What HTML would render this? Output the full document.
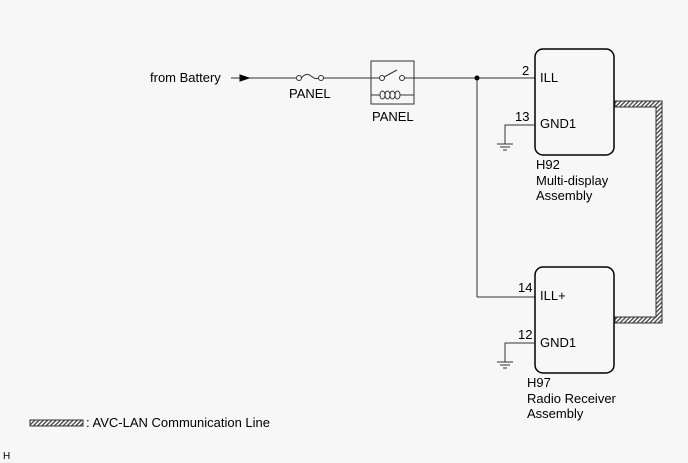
<!DOCTYPE html>
<html><head><style>
html,body{margin:0;padding:0;background:#f7f7f7;}
svg{display:block;}
text{font-family:"Liberation Sans",Arial,sans-serif;font-size:13px;fill:#000;}
</style></head><body>
<svg width="688" height="463" viewBox="0 0 688 463" xmlns="http://www.w3.org/2000/svg">
<defs>
<pattern id="h" width="3" height="3" patternUnits="userSpaceOnUse" patternTransform="rotate(45)">
<rect width="3" height="3" fill="#fff"/><rect width="1.5" height="3" fill="#555"/>
</pattern>
</defs>
<g stroke="#333" stroke-width="1" fill="none">
<line x1="231" y1="78" x2="296" y2="78"/>
<polygon points="240,75 249,78 240,81" fill="#000" stroke="#000"/>
<circle cx="299" cy="78" r="2.5" fill="#f7f7f7"/>
<path d="M301.5 78 Q306 72 311 76 Q316 80 318.5 78"/>
<circle cx="321" cy="78" r="2.5" fill="#f7f7f7"/>
<line x1="323.5" y1="78" x2="380" y2="78"/>
<rect x="371" y="61" width="43" height="43"/>
<circle cx="382" cy="78" r="2.5" fill="#f7f7f7"/>
<line x1="384" y1="77" x2="397" y2="70"/>
<circle cx="402" cy="78" r="2.5" fill="#f7f7f7"/>
<line x1="404.5" y1="78" x2="535" y2="78"/>
<path d="M371 95 H380"/>
<ellipse cx="382.5" cy="95" rx="2.5" ry="4"/>
<ellipse cx="387.5" cy="95" rx="2.5" ry="4"/>
<ellipse cx="392.5" cy="95" rx="2.5" ry="4"/>
<ellipse cx="397.5" cy="95" rx="2.5" ry="4"/>
<path d="M400 95 H414"/>
<line x1="477" y1="78" x2="477" y2="297"/>
<line x1="477" y1="297" x2="535" y2="297"/>
<rect x="535" y="49" width="79" height="106" rx="8" stroke="#000" stroke-width="1.5"/>
<rect x="535" y="267" width="79" height="106" rx="8" stroke="#000" stroke-width="1.5"/>
<path d="M535 125 H505 V144"/>
<line x1="497" y1="144" x2="513" y2="144"/><line x1="500" y1="147" x2="510" y2="147"/><line x1="503" y1="150" x2="507" y2="150"/>
<path d="M535 343 H505 V362"/>
<line x1="497" y1="362" x2="513" y2="362"/><line x1="500" y1="365" x2="510" y2="365"/><line x1="503" y1="368" x2="507" y2="368"/>
</g>
<circle cx="477" cy="78" r="2.5" fill="#000"/>
<path d="M615 101 H662 V323 H615 V317 H656 V107 H615 Z" fill="url(#h)" stroke="#333" stroke-width="1"/>
<rect x="30" y="420" width="53" height="6" fill="url(#h)" stroke="#333" stroke-width="1"/>
<text x="150" y="82">from Battery</text>
<text x="289" y="98">PANEL</text>
<text x="372" y="121">PANEL</text>
<text x="522" y="75">2</text>
<text x="540" y="82">ILL</text>
<text x="515" y="121">13</text>
<text x="540" y="128">GND1</text>
<text x="536" y="169">H92</text>
<text x="536" y="185">Multi-display</text>
<text x="536" y="200">Assembly</text>
<text x="518" y="292">14</text>
<text x="540" y="300">ILL+</text>
<text x="518" y="339">12</text>
<text x="540" y="347">GND1</text>
<text x="527" y="387">H97</text>
<text x="527" y="403">Radio Receiver</text>
<text x="527" y="418">Assembly</text>
<text x="86" y="427">: AVC-LAN Communication Line</text>
<text x="3" y="459" style="font-size:10px">H</text>
</svg>
</body></html>
